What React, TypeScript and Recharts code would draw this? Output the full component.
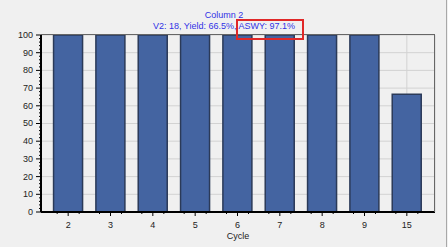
import { BarChart, Bar, XAxis, YAxis, CartesianGrid } from "recharts"

// values (percent per cycle)
const cycles = ["2", "3", "4", "5", "6", "7", "8", "9", "15"]
const values = [100, 100, 100, 100, 100, 100, 100, 100, 66.5]
const majorTicks = [0, 10, 20, 30, 40, 50, 60, 70, 80, 90, 100]
const yTicks = Array.from({ length: 51 }, (_, i) => i * 2)

const title = "Column 2"
const subtitle = "V2: 18, Yield: 66.5%, ASWY: 97.1%"

const data = cycles.map((c, i) => ({ cycle: c, value: values[i] }))

const FONT = "'Liberation Sans', Arial, sans-serif"

function YTick(props: any) {
  const { x, y, payload } = props
  const major = payload.value % 10 === 0
  return (
    <g>
      <line x1={x - (major ? 5 : 2)} x2={x} y1={y} y2={y} stroke="#000" strokeWidth={1} />
      {major && (
        <text x={x - 8} y={y} dy="0.33em" textAnchor="end" fontSize={9} fontFamily={FONT} fill="#222">
          {payload.value}
        </text>
      )}
    </g>
  )
}

function XTick(props: any) {
  const { x, y, payload } = props
  return (
    <g>
      <line x1={x} x2={x} y1={y} y2={y + 4} stroke="#000" strokeWidth={1} />
      <line x1={x - 11} x2={x - 11} y1={y} y2={y + 2} stroke="#000" strokeWidth={1} />
      <line x1={x + 11} x2={x + 11} y1={y} y2={y + 2} stroke="#000" strokeWidth={1} />
      <text x={x} y={y + 16} textAnchor="middle" fontSize={9} fontFamily={FONT} fill="#222">
        {payload.value}
      </text>
    </g>
  )
}

export default function App() {
  return (
    <div style={{ position: "fixed", left: 0, top: 0, width: 448, height: 247, background: "#f0f0f0", fontFamily: FONT }}>
      <div style={{ position: "absolute", left: 0, top: 10, width: 448, textAlign: "center", fontSize: 9, lineHeight: "11px", color: "#3030e6" }}>
        {title}
      </div>
      <div style={{ position: "absolute", left: 0, top: 21, width: 448, textAlign: "center", fontSize: 9, lineHeight: "11px", color: "#3030e6" }}>
        {subtitle}
      </div>
      <BarChart
        width={448}
        height={247}
        data={data}
        margin={{ top: 35, right: 13, left: 11, bottom: 0 }}
        barCategoryGap="15.5%"
      >
        <CartesianGrid stroke="#d2d2d2" strokeWidth={1} horizontalValues={majorTicks} />
        <XAxis
          dataKey="cycle"
          height={35}
          padding={{ left: 6, right: 7 }}
          tickLine={false}
          tickSize={0}
          tickMargin={0}
          tick={<XTick />}
          axisLine={{ stroke: "#000", strokeWidth: 2 }}
          interval={0}
          label={{ value: "Cycle", position: "insideBottom", offset: 8, fontSize: 9, fontFamily: FONT, fill: "#222" }}
        />
        <YAxis
          width={30}
          domain={[0, 100]}
          ticks={yTicks}
          interval={0}
          tickLine={false}
          tickSize={0}
          tickMargin={0}
          tick={<YTick />}
          axisLine={{ stroke: "#000", strokeWidth: 2 }}
        />
        <Bar dataKey="value" fill="#4464a1" stroke="#2b3a58" strokeWidth={1.5} isAnimationActive={false} />
      </BarChart>
      <div
        style={{
          position: "absolute",
          left: 41,
          top: 34,
          width: 394,
          height: 178,
          borderTop: "1.5px solid #666",
          borderRight: "1.5px solid #666",
          boxSizing: "border-box",
          pointerEvents: "none",
        }}
      />
      <div
        style={{
          position: "absolute",
          left: 236,
          top: 19,
          width: 68,
          height: 21,
          border: "2px solid #e02828",
          boxSizing: "border-box",
        }}
      />
      <div style={{ position: "absolute", left: 446, top: 0, width: 1, height: 247, background: "#a8a8a8" }} />
    </div>
  )
}
